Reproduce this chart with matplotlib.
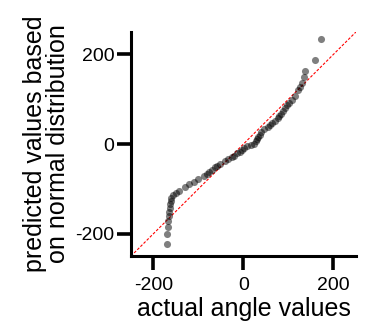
import numpy as np
import matplotlib
matplotlib.use('Agg')
import matplotlib.pyplot as plt

plt.rcParams['font.family'] = ['Liberation Sans', 'DejaVu Sans']
plt.rcParams['axes.unicode_minus'] = False

# Q-Q plot: actual angle values vs predicted normal quantiles
actual = [-170, -169, -168, -167, -166, -165, -164, -163, -162, -160,
          -156, -150, -143, -130, -120, -110, -100, -88, -82, -76,
          -70, -64, -58, -52, -40, -34, -26, -20, -14, -8,
          -4, 2, 8, 16, 24, 27, 29, 32, 36, 40,
          46, 54, 60, 64, 70, 76, 80, 84, 88, 92,
          96, 102, 108, 114, 122, 126, 130, 134, 137, 158, 173]
predicted = [-224, -200, -185, -172, -161, -151, -142, -134, -127, -120,
             -114, -109, -104, -96, -90, -84, -78, -72, -67, -62,
             -57, -52, -48, -44, -38, -34, -30, -26, -21, -17,
             -13, -9, -5, -2, 1, 6, 11, 16, 21, 26,
             33, 38, 42, 47, 52, 57, 62, 68, 74, 80,
             86, 92, 99, 107, 121, 128, 136, 149, 164, 188, 235]

lims = [-250, 250]
ticks = [-200, 0, 200]

fig = plt.figure(figsize=(3.7, 3.33), dpi=100)
ax = fig.add_axes([0.354, 0.231, 0.608, 0.673])

# identity line
ax.plot(lims, lims, color='red', lw=0.8, linestyle=(0, (2.5, 1.5)), zorder=1)
ax.scatter(actual, predicted, s=26, color='k', alpha=0.5, linewidths=0, zorder=2)

ax.set_xlim(lims)
ax.set_ylim(lims)
ax.set_xticks(ticks)
ax.set_yticks(ticks)

for side in ['top', 'right']:
    ax.spines[side].set_visible(False)
for side in ['left', 'bottom']:
    ax.spines[side].set_linewidth(2.2)

ax.tick_params(axis='both', length=10, width=2.6, labelsize=14)
ax.tick_params(axis='x', pad=5)
ax.tick_params(axis='y', pad=2)

ax.set_xlabel('actual angle values', fontsize=18, labelpad=2)
ax.set_ylabel('predicted values based\non normal distribution', fontsize=18,
              labelpad=4, linespacing=0.95)

fig.savefig('out.png', dpi=100)
